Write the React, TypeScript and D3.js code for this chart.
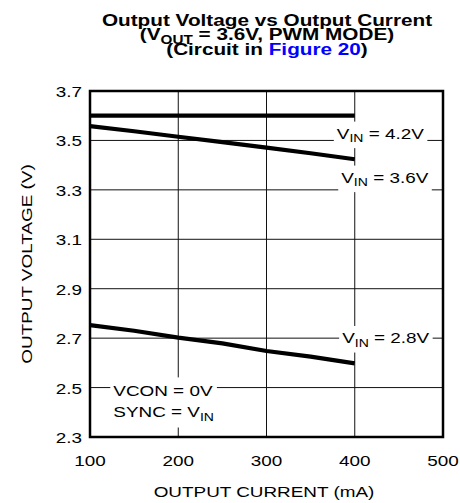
import { useEffect, useRef } from 'react';
import * as d3 from 'd3';

// values
const currents = [100, 150, 200, 250, 300, 350, 400];
const vin42 = [3.6, 3.6, 3.6, 3.6, 3.6, 3.6, 3.6];
const vin36 = [3.558, 3.537, 3.515, 3.493, 3.471, 3.448, 3.424];
const vin28 = [2.753, 2.73, 2.702, 2.679, 2.648, 2.625, 2.598];

const xTicks = [100, 200, 300, 400, 500];
const yTicks = [2.3, 2.5, 2.7, 2.9, 3.1, 3.3, 3.5, 3.7];

type Part = { t: string; sub?: boolean; fill?: string };

// curve labels: center x (mA) and baseline (V)
const curveLabels: { parts: Part[]; x: number; y: number }[] = [
    { parts: [{ t: 'V' }, { t: 'IN', sub: true }, { t: ' = 4.2V' }], x: 429, y: 3.506 },
    { parts: [{ t: 'V' }, { t: 'IN', sub: true }, { t: ' = 3.6V' }], x: 434, y: 3.328 },
    { parts: [{ t: 'V' }, { t: 'IN', sub: true }, { t: ' = 2.8V' }], x: 435, y: 2.679 },
];

const condLines: Part[][] = [
    [{ t: 'VCON = 0V' }],
    [{ t: 'SYNC = V' }, { t: 'IN', sub: true }],
];

const titleLines: Part[][] = [
    [{ t: 'Output Voltage vs Output Current' }],
    [{ t: '(V' }, { t: 'OUT', sub: true }, { t: ' = 3.6V, PWM MODE)' }],
    [{ t: '(Circuit in ' }, { t: 'Figure 20', fill: '#0000ff' }, { t: ')' }],
];

const W = 460;
const H = 503;
const M = { left: 90, right: 443, top: 91, bottom: 437 };
const SX = 1.22; // the original lettering is stretched sideways
const FONT = '"Liberation Sans", Arial, sans-serif';

export default function App() {
    const svgRef = useRef<SVGSVGElement>(null);

    useEffect(() => {
        if (!svgRef.current) return;
        const svg = d3.select(svgRef.current);
        svg.selectAll('*').remove();

        const x = d3.scaleLinear().domain([100, 500]).range([M.left, M.right]);
        const y = d3.scaleLinear().domain([2.3, 3.7]).range([M.bottom, M.top]);

        const gridG = svg.append('g');
        const maskG = svg.append('g');
        const curveG = svg.append('g');
        const textG = svg.append('g').attr('font-family', FONT);
        const frameG = svg.append('g');

        const addText = (
            parent: d3.Selection<SVGGElement, unknown, null, undefined>,
            px: number, py: number, parts: Part[],
            opts: { size: number; weight?: string; anchor?: string; rotate?: boolean; subSize?: number; subDy?: number }
        ) => {
            const outer = parent.append('g');
            const inner = outer.append('g')
                .attr('transform', `translate(${px},${py})${opts.rotate ? ' rotate(-90)' : ''} scale(${SX},1)`);
            const t = inner.append('text')
                .attr('text-anchor', opts.anchor || 'start')
                .attr('font-size', opts.size)
                .attr('font-weight', opts.weight || 'normal')
                .attr('fill', '#000');
            const subDy = opts.subDy ?? 3.5;
            let shift = 0;
            parts.forEach(p => {
                const want = p.sub ? subDy : 0;
                const ts = t.append('tspan').text(p.t);
                if (want !== shift) ts.attr('dy', want - shift);
                shift = want;
                if (p.sub) ts.attr('font-size', opts.subSize ?? opts.size * 0.72);
                if (p.fill) ts.attr('fill', p.fill);
            });
            return outer;
        };

        const mask = (boxes: DOMRect[], padX: number, padY: number) => {
            const x0 = d3.min(boxes, b => b.x)!;
            const y0 = d3.min(boxes, b => b.y)!;
            const x1 = d3.max(boxes, b => b.x + b.width)!;
            const y1 = d3.max(boxes, b => b.y + b.height)!;
            maskG.append('rect')
                .attr('x', x0 - padX).attr('y', y0 - padY)
                .attr('width', x1 - x0 + 2 * padX).attr('height', y1 - y0 + 2 * padY)
                .attr('fill', '#fff');
        };

        // grid
        xTicks.slice(1, -1).forEach(v => {
            gridG.append('line')
                .attr('x1', x(v)).attr('x2', x(v))
                .attr('y1', M.top).attr('y2', M.bottom)
                .attr('stroke', '#111').attr('stroke-width', 1);
        });
        yTicks.slice(1, -1).forEach(v => {
            gridG.append('line')
                .attr('x1', M.left).attr('x2', M.right)
                .attr('y1', y(v)).attr('y2', y(v))
                .attr('stroke', '#111').attr('stroke-width', 1);
        });

        // curves
        const line = d3.line<number>()
            .x((_, i) => x(currents[i]))
            .y(d => y(d));
        [vin42, vin36, vin28].forEach(series => {
            curveG.append('path')
                .datum(series)
                .attr('d', line)
                .attr('fill', 'none')
                .attr('stroke', '#000')
                .attr('stroke-width', 4.2)
                .attr('stroke-linejoin', 'round');
        });

        // curve labels with white boxes that break the grid
        curveLabels.forEach(l => {
            const g = addText(textG, x(l.x), y(l.y), l.parts, { size: 15.5, anchor: 'middle', subSize: 11.5 });
            mask([g.node()!.getBBox()], 3, 3);
        });

        // test conditions
        const condX = x(126.4);
        const condBoxes = condLines.map((parts, i) => {
            const g = addText(textG, condX, y(2.467) + i * 21.6, parts, { size: 15.5, subSize: 11.5 });
            return g.node()!.getBBox();
        });
        mask(condBoxes, 3, 4);

        // tick labels
        yTicks.forEach(v => {
            addText(textG, 82, y(v) + 6, [{ t: v.toFixed(1) }], { size: 15.5, anchor: 'end' });
        });
        xTicks.forEach(v => {
            addText(textG, x(v), 466, [{ t: String(v) }], { size: 15.5, anchor: 'middle' });
        });

        // axis titles
        addText(textG, 264, 497, [{ t: 'OUTPUT CURRENT (mA)' }], { size: 15.5, anchor: 'middle' });
        addText(textG, 32, (M.top + M.bottom) / 2, [{ t: 'OUTPUT VOLTAGE (V)' }], { size: 15.5, anchor: 'middle', rotate: true });

        // title
        titleLines.forEach((parts, i) => {
            addText(textG, 267, 26 + i * 14.3, parts, { size: 17, weight: 'bold', anchor: 'middle', subSize: 12.5, subDy: 4 });
        });

        // frame
        frameG.append('rect')
            .attr('x', M.left).attr('y', M.top)
            .attr('width', M.right - M.left).attr('height', M.bottom - M.top)
            .attr('fill', 'none')
            .attr('stroke', '#000')
            .attr('stroke-width', 2.5);
    }, []);

    return (
        <div style={{ position: 'absolute', left: 0, top: 0, background: '#fff' }}>
            <svg ref={svgRef} width={W} height={H} style={{ display: 'block' }} />
        </div>
    );
}
